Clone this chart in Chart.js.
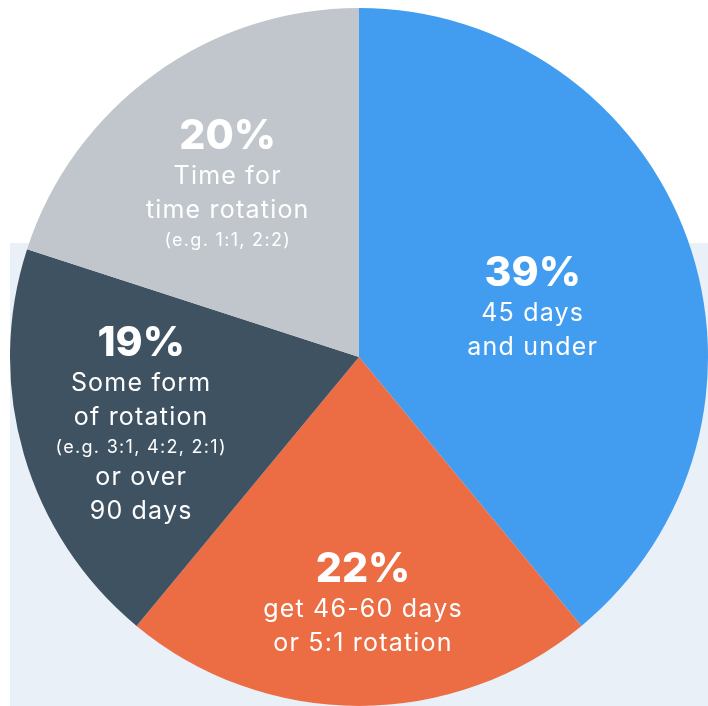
<!DOCTYPE html>
<html>
<head>
<meta charset="utf-8">
<title>Rotation share</title>
<script src="https://cdn.jsdelivr.net/npm/chart.js@4/dist/chart.umd.min.js"></script>
<style>
  html, body { margin: 0; padding: 0; background: #ffffff; }
  #wrap { position: relative; width: 708px; height: 706px; }
  #panel {
    position: absolute; left: 10px; top: 243px; right: 0; bottom: 0;
    background: #e9f0f7;
  }
  #chart { position: absolute; left: 0; top: 0; }
</style>
</head>
<body>
<div id="wrap">
  <div id="panel"></div>
  <canvas id="chart" width="708" height="706"></canvas>
</div>
<script>
const categories = [
  "45 days and under",
  "46-60 days or 5:1 rotation",
  "Some form of rotation or over 90 days",
  "Time for time rotation"
];
const shares = [39, 22, 19, 20];
const sliceColors = ["#429df0", "#ec6c44", "#3f5262", "#c0c6cc"];

// text under each percentage, "small" lines are the example notes
const captions = [
  [["45 days"], ["and under"]],
  [["get 46-60 days"], ["or 5:1 rotation"]],
  [["Some form"], ["of rotation"], ["(e.g. 3:1, 4:2, 2:1)", "small"], ["or over"], ["90 days"]],
  [["Time for"], ["time rotation"], ["(e.g. 1:1, 2:2)", "small"]]
];

// where each label block sits: fraction of radius plus a small nudge
const labelRadius = [0.52, 0.70, 0.65, 0.64];
const labelNudge = [[3, 10], [4, 1], [0, 3], [0, 7]];

const FONT = "Inter, 'Noto Sans', sans-serif";

const sliceLabels = {
  id: "sliceLabels",
  afterDatasetsDraw(chart) {
    const ctx = chart.ctx;
    const meta = chart.getDatasetMeta(0);
    meta.data.forEach((arc, i) => {
      const p = arc.getProps(["x", "y", "startAngle", "endAngle", "outerRadius"], true);
      const mid = (p.startAngle + p.endAngle) / 2;
      const r = p.outerRadius * labelRadius[i];
      const cx = p.x + Math.cos(mid) * r + labelNudge[i][0];
      const cy = p.y + Math.sin(mid) * r + labelNudge[i][1];

      // baselines relative to the top of the percentage glyphs
      const rows = [{ text: shares[i] + "%", font: "800 41px " + FONT, base: 29, spacing: "0px" }];
      let base = 29;
      let prevSmall = false;
      captions[i].forEach((c) => {
        const small = c[1] === "small";
        base += small ? 28 : (prevSmall ? 32 : (rows.length === 1 ? 35 : 34));
        rows.push({
          text: c[0],
          font: (small ? "400 18px " : "400 25px ") + FONT,
          base: base,
          spacing: small ? "1.3px" : "1.2px"
        });
        prevSmall = small;
      });
      const top = cy - base / 2;

      ctx.save();
      ctx.fillStyle = "#ffffff";
      ctx.textAlign = "center";
      ctx.textBaseline = "alphabetic";
      rows.forEach((row) => {
        ctx.font = row.font;
        ctx.letterSpacing = row.spacing;
        ctx.fillText(row.text, cx, top + row.base);
      });
      ctx.restore();
    });
  }
};

new Chart(document.getElementById("chart"), {
  type: "pie",
  data: {
    labels: categories,
    datasets: [{
      data: shares,
      backgroundColor: sliceColors,
      borderWidth: 0
    }]
  },
  options: {
    responsive: false,
    animation: false,
    layout: { padding: { left: 10, right: 0, top: 8, bottom: 0 } },
    plugins: {
      legend: { display: false },
      tooltip: { enabled: false }
    }
  },
  plugins: [sliceLabels]
});
</script>
</body>
</html>
